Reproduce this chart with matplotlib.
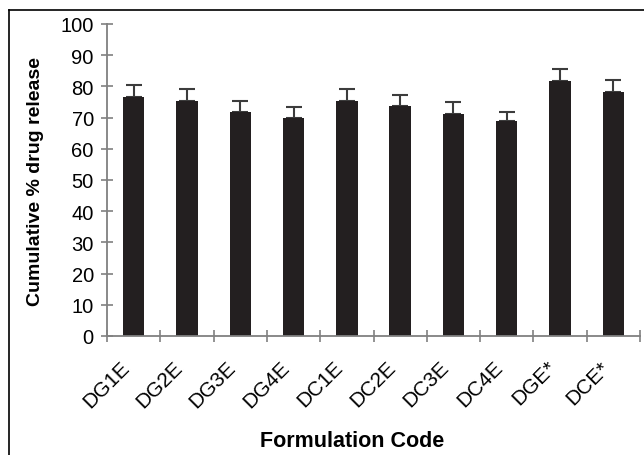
import matplotlib.pyplot as plt
from matplotlib.lines import Line2D

# data
codes = ["DG1E", "DG2E", "DG3E", "DG4E", "DC1E", "DC2E", "DC3E", "DC4E", "DGE*", "DCE*"]
release = [76.6, 75.3, 71.8, 70.0, 75.4, 73.8, 71.2, 69.0, 81.8, 78.3]
sd = [4.0, 3.9, 3.5, 3.3, 3.9, 3.5, 3.7, 2.9, 3.8, 3.9]

plt.rcParams['font.family'] = ['Liberation Sans', 'DejaVu Sans']

fig = plt.figure(figsize=(6.44, 4.56), dpi=100)
W, H = 644, 456
ax = fig.add_axes([107 / W, 1 - 337 / H, (640 - 107) / W, (337 - 25) / H])

x = list(range(len(codes)))
ax.bar(x, release, width=0.4, color='#231f20', zorder=2)
ax.errorbar(x, release, yerr=[[0] * len(sd), sd], fmt='none', ecolor='#3c3c3c',
            elinewidth=1.5, capsize=5.5, capthick=1.5, zorder=1)

ax.set_xlim(-0.5, len(codes) - 0.5)
ax.set_ylim(0, 100)
ax.set_yticks(range(0, 101, 10))
ax.set_xticks([i - 0.5 for i in range(len(codes) + 1)])
ax.set_xticklabels([])
ax.tick_params(axis='x', direction='inout', length=9, width=1.2, color='#808080')
ax.tick_params(axis='y', direction='inout', length=9, width=1.2, color='#808080',
               labelsize=14.5, pad=5)

# rotated category labels under each bar
for i, c in enumerate(codes):
    ax.annotate(c, xy=(i, 0), xycoords=('data', 'axes fraction'),
                xytext=(-14, -21), textcoords='offset pixels',
                rotation=45, ha='right', va='top', rotation_mode='anchor',
                fontsize=15, annotation_clip=False)

for s in ['top', 'right']:
    ax.spines[s].set_visible(False)
for s in ['left', 'bottom']:
    ax.spines[s].set_color('#808080')
    ax.spines[s].set_linewidth(1.3)

fig.text(36 / W, 1 - 182 / H, "Cumulative % drug release", rotation=90, ha='center',
         va='center', fontsize=14, fontweight='bold')
fig.text(352 / W, 1 - 442 / H, "Formulation Code", ha='center', va='center',
         fontsize=15.5, fontweight='bold')

# outer frame (only left and top visible)
fig.add_artist(Line2D([9 / W, 9 / W], [0, 1 - 11 / H], color='black', lw=1.2,
                      transform=fig.transFigure))
fig.add_artist(Line2D([9 / W, 1], [1 - 11 / H, 1 - 11 / H], color='black', lw=1.2,
                      transform=fig.transFigure))

fig.savefig('out.png', dpi=100)
